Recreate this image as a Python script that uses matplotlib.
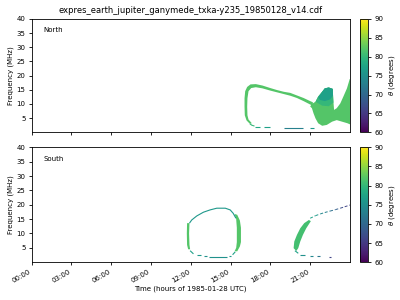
import numpy as np
import matplotlib
matplotlib.use('Agg')
from matplotlib import pyplot as plt
from matplotlib import cm, colors

plt.rcParams['font.family'] = 'DejaVu Sans'
plt.rcParams['font.size'] = 5

title = 'expres_earth_jupiter_ganymede_txka-y235_19850128_v14.cdf'
hour_ticks = [0, 3, 6, 9, 12, 15, 18, 21]
hour_labels = ['00:00', '03:00', '06:00', '09:00', '12:00', '15:00', '18:00', '21:00']
freq_ticks = [5, 10, 15, 20, 25, 30, 35, 40]
theta_ticks = [60, 65, 70, 75, 80, 85, 90]

# ---- North hemisphere: filled emission regions (hours, MHz, theta)
n_loop_h = [16.45, 16.2, 16.07, 16.05, 16.05, 16.1, 16.25, 16.5, 16.9, 17.4, 18.0, 18.5, 19.0, 19.5,
            20.0, 20.5, 21.0, 21.2,
            21.2, 21.0, 20.5, 20.0, 19.5, 19.0, 18.5, 18.0, 17.4, 16.9, 16.55, 16.35, 16.27, 16.25,
            16.27, 16.35, 16.6]
n_loop_f = [3.0, 4.2, 6.0, 9.0, 12.0, 14.5, 16.0, 16.9, 17.0, 16.5, 15.6, 14.9, 14.3, 13.9,
            13.0, 12.1, 11.0, 10.6,
            9.4, 9.8, 11.0, 12.1, 12.9, 13.5, 14.1, 14.7, 15.5, 15.9, 15.6, 14.5, 12.0, 9.0,
            6.0, 4.5, 3.2]
n_loop_theta = 82

n_fan_h = [21.1, 21.4, 21.6, 21.9, 22.1, 22.4, 22.7, 22.72, 22.77, 22.8, 23.0, 23.27, 23.5, 23.77,
           23.98, 24.0, 24.0, 23.8, 23.4, 23.0, 22.65, 22.25, 21.9, 21.6, 21.4, 21.25, 21.13, 21.0]
n_fan_f = [9.9, 10.8, 12.6, 14.3, 15.5, 15.8, 15.3, 13.2, 9.6, 7.9, 8.5, 10.2, 12.6, 15.5,
           18.8, 18.8, 2.8, 3.2, 3.75, 4.3, 3.75, 2.6, 2.3, 3.2, 4.9, 6.7, 8.5, 9.1]
n_fan_theta = 82

n_fan_mid_h = [21.4, 21.6, 21.9, 22.1, 22.4, 22.7, 22.72, 22.75, 22.4, 21.9]
n_fan_mid_f = [10.8, 12.6, 14.3, 15.5, 15.8, 15.3, 13.2, 10.5, 9.2, 9.4]
n_fan_mid_theta = 80

n_fan_top_h = [21.6, 21.9, 22.1, 22.4, 22.7, 22.72, 22.5, 22.1, 21.75]
n_fan_top_f = [12.3, 14.3, 15.5, 15.8, 15.3, 13.0, 11.6, 11.0, 11.4]
n_fan_top_theta = 77

# ---- North thin strokes: (hours, MHz, theta)
n_strokes = [
    ([16.45, 16.6, 16.8], [3.0, 2.5, 2.2], 80),
    ([16.85, 17.2], [2.0, 2.0], 78),
    ([17.55, 17.95], [1.7, 1.7], 77),
    ([19.0, 20.45], [1.4, 1.4], 73),
    ([21.0, 21.25], [1.6, 1.6], 76),
]

# ---- South hemisphere: filled emission regions
s_left_h = [11.72, 11.7, 11.72, 11.8, 11.95, 11.9, 11.87, 11.9]
s_left_f = [13.6, 10.0, 6.0, 4.5, 4.5, 6.0, 10.0, 13.6]
s_left_theta = 82

s_right_h = [15.3, 15.42, 15.47, 15.47, 15.42, 15.3, 15.5, 15.7, 15.78, 15.78, 15.7, 15.5]
s_right_f = [16.8, 15.0, 12.0, 7.0, 5.0, 3.8, 3.8, 5.5, 7.0, 12.0, 14.5, 16.5]
s_right_theta = 82

s_band_h = [19.75, 19.8, 20.0, 20.25, 20.55, 20.9, 21.05, 20.7, 20.45, 20.25, 20.1, 19.95]
s_band_f = [4.9, 7.2, 9.5, 11.8, 13.6, 14.7, 14.3, 11.8, 9.5, 7.2, 4.9, 3.9]
s_band_theta = 81

# ---- South thin strokes
s_strokes = [
    ([11.9, 12.07, 12.45, 12.95, 13.45, 13.96, 14.6, 14.97, 15.2, 15.4],
     [13.6, 14.7, 16.1, 17.4, 18.2, 18.8, 18.8, 18.2, 17.0, 15.3], 76),
    ([11.95, 12.2], [4.0, 2.9], 77),
    ([12.5, 12.8], [2.4, 2.4], 76),
    ([13.0, 13.2], [2.0, 2.0], 75),
    ([13.35, 14.7], [1.7, 1.7], 75),
    ([14.85, 15.05], [2.1, 2.1], 76),
    ([15.15, 15.35], [2.6, 3.6], 77),
    ([19.85, 20.1], [4.0, 3.1], 77),
    ([20.25, 20.6], [2.5, 2.5], 75),
    ([21.0, 21.2], [2.2, 2.2], 74),
    ([21.5, 21.75], [2.0, 2.0], 72),
    ([22.4, 22.6], [1.7, 1.7], 66),
]

s_upper_h = [21.0, 21.4, 21.76, 22.1, 22.5, 22.9, 23.27, 23.6, 24.0]
s_upper_f = [15.3, 16.2, 16.8, 17.3, 17.8, 18.3, 18.8, 19.3, 19.9]
s_upper_theta = [77, 76, 74, 73, 71, 69, 67, 66, 65]

cmap = plt.get_cmap('viridis')
norm = colors.Normalize(vmin=60, vmax=90)

fig = plt.figure(figsize=(4, 3), dpi=100)
ax1 = fig.add_axes([0.079, 0.559, 0.796, 0.378])
ax2 = fig.add_axes([0.079, 0.126, 0.796, 0.383])
cax1 = fig.add_axes([0.901, 0.559, 0.0185, 0.378])
cax2 = fig.add_axes([0.901, 0.126, 0.0185, 0.383])

# north
ax1.fill(n_loop_h, n_loop_f, color=cmap(norm(n_loop_theta)), lw=0)
ax1.fill(n_fan_h, n_fan_f, color=cmap(norm(n_fan_theta)), lw=0)
ax1.fill(n_fan_mid_h, n_fan_mid_f, color=cmap(norm(n_fan_mid_theta)), lw=0)
ax1.fill(n_fan_top_h, n_fan_top_f, color=cmap(norm(n_fan_top_theta)), lw=0)
for h, f, th in n_strokes:
    ax1.plot(h, f, color=cmap(norm(th)), lw=0.8, solid_capstyle='butt')

# south
ax2.fill(s_left_h, s_left_f, color=cmap(norm(s_left_theta)), lw=0)
ax2.fill(s_right_h, s_right_f, color=cmap(norm(s_right_theta)), lw=0)
ax2.fill(s_band_h, s_band_f, color=cmap(norm(s_band_theta)), lw=0)
for h, f, th in s_strokes:
    ax2.plot(h, f, color=cmap(norm(th)), lw=0.8, solid_capstyle='butt')
for i in range(len(s_upper_h) - 1):
    ax2.plot(s_upper_h[i:i+2], s_upper_f[i:i+2], color=cmap(norm(s_upper_theta[i])),
             lw=0.7, ls=(0, (3, 2)))

for ax, name in [(ax1, 'North'), (ax2, 'South')]:
    ax.set_xlim(0, 24)
    ax.set_ylim(0, 40)
    ax.set_xticks(hour_ticks)
    ax.set_yticks(freq_ticks)
    ax.set_ylabel('Frequency (MHz)', labelpad=1.5)
    ax.text(0.037, 0.9, name, transform=ax.transAxes, ha='left', va='center')
    ax.tick_params(length=2.5, width=0.6, pad=2)
    for sp in ax.spines.values():
        sp.set_linewidth(0.6)

ax1.set_xticklabels([])
ax2.set_xticklabels(hour_labels, rotation=30, ha='right')
ax2.set_xlabel('Time (hours of 1985-01-28 UTC)', labelpad=1)
ax1.set_title(title, fontsize=6, pad=4)

sm = cm.ScalarMappable(norm=norm, cmap=cmap)
for cax in [cax1, cax2]:
    cb = fig.colorbar(sm, cax=cax, ticks=theta_ticks)
    cb.set_label('$\\theta$ (degrees)', labelpad=3)
    cb.outline.set_linewidth(0.6)
    cax.tick_params(length=2.5, width=0.6, pad=2)

fig.savefig('out.png', dpi=100)
